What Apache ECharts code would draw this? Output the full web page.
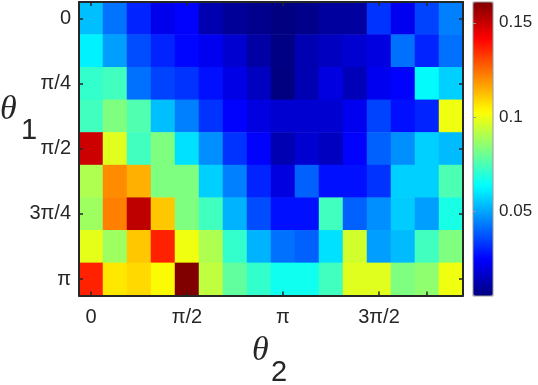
<!DOCTYPE html>
<html><head><meta charset="utf-8">
<script src="https://cdn.jsdelivr.net/npm/echarts@6/dist/echarts.min.js"></script>
<style>html,body{margin:0;padding:0;background:#fff}#c{width:538px;height:385px}</style>
</head><body><div id="c"></div>
<script>
// theta2 columns (16) and theta1 rows (9)
const xCategories = ['0','1','2','3','4','5','6','7','8','9','10','11','12','13','14','15'];
const yCategories = ['0','1','2','3','4','5','6','7','8'];
const xTickIdx = [0, 4, 8, 12, 14];
const xLabelIdx = [0, 4, 8, 12];
const xLabels = ['0', 'π/2', 'π', '3π/2'];
const yTickIdx = [0, 2, 4, 6, 8];
const yLabels = ['0', 'π/4', 'π/2', '3π/4', 'π'];
const cbTicks = [0.05, 0.1, 0.15];
const cbLabels = ['0.05', '0.1', '0.15'];
const colorMin = 0.0054;
const colorMax = 0.161;

const row0 = [0.0540,0.0424,0.0303,0.0221,0.0249,0.0128,0.0093,0.0073,0.0054,0.0070,0.0101,0.0101,0.0326,0.0225,0.0350,0.0443];
const row1 = [0.0618,0.0490,0.0365,0.0303,0.0256,0.0225,0.0178,0.0109,0.0060,0.0132,0.0155,0.0178,0.0202,0.0420,0.0303,0.0420];
const row2 = [0.0715,0.0735,0.0420,0.0350,0.0326,0.0272,0.0210,0.0155,0.0054,0.0132,0.0202,0.0140,0.0225,0.0249,0.0638,0.0567];
const row3 = [0.0735,0.0832,0.0759,0.0540,0.0443,0.0326,0.0249,0.0202,0.0178,0.0178,0.0178,0.0225,0.0350,0.0272,0.0303,0.1003];
const row4 = [0.1493,0.0980,0.0735,0.0832,0.0591,0.0466,0.0326,0.0249,0.0132,0.0178,0.0155,0.0249,0.0396,0.0466,0.0567,0.0536];
const row5 = [0.0905,0.1202,0.1147,0.0832,0.0832,0.0567,0.0443,0.0303,0.0202,0.0396,0.0272,0.0272,0.0326,0.0567,0.0567,0.0754];
const row6 = [0.0879,0.1221,0.1513,0.1112,0.0832,0.0735,0.0521,0.0365,0.0272,0.0272,0.0735,0.0396,0.0466,0.0560,0.0490,0.0676];
const row7 = [0.0988,0.0879,0.1112,0.1365,0.1003,0.0905,0.0715,0.0521,0.0420,0.0396,0.0591,0.0956,0.0490,0.0536,0.0735,0.0832];
const row8 = [0.1365,0.1062,0.1085,0.1027,0.1610,0.0929,0.0785,0.0715,0.0661,0.0661,0.0735,0.0980,0.0980,0.0832,0.0855,0.1003];
const rows = [row0,row1,row2,row3,row4,row5,row6,row7,row8];

// jet colormap (64 levels)
function jet(n){
  const out=[];
  const cl=v=>Math.max(0,Math.min(1,v));
  for(let i=0;i<n;i++){
    const x=i/(n-1);
    const r=cl(1.5-Math.abs(4*x-3)), g=cl(1.5-Math.abs(4*x-2)), b=cl(1.5-Math.abs(4*x-1));
    out.push('rgb('+Math.round(r*255)+','+Math.round(g*255)+','+Math.round(b*255)+')');
  }
  return out;
}

const data=[];
rows.forEach((r,yi)=>r.forEach((v,xi)=>data.push([xi,yi,v])));

const FONT='Liberation Sans';
const TXT='#262626';
const chart=echarts.init(document.getElementById('c'),null,{renderer:'canvas'});
const G={left:79,top:2,width:384,height:293.5};
const catX = (pos, show) => ({
  type:'category', gridIndex:0, data:xCategories, position:pos, boundaryGap:true,
  axisLine:{show:true,lineStyle:{color:TXT,width:2}},
  axisTick:{show:true,inside:true,length:4,alignWithLabel:true,lineStyle:{color:TXT,width:1.5},
    interval:(i)=>xTickIdx.indexOf(i)>=0},
  axisLabel:{show:show,margin:12,fontSize:20,fontFamily:FONT,color:TXT,
    interval:(i)=>xLabelIdx.indexOf(i)>=0,
    formatter:(v,i)=>{const k=xLabelIdx.indexOf(Number(v));return k>=0?xLabels[k]:'';}},
  splitLine:{show:false}, z:5
});
const catY = (pos, show) => ({
  type:'category', gridIndex:0, data:yCategories, position:pos, inverse:true, boundaryGap:true,
  axisLine:{show:true,lineStyle:{color:TXT,width:2}},
  axisTick:{show:true,inside:true,length:4,alignWithLabel:true,lineStyle:{color:TXT,width:1.5},
    interval:(i)=>yTickIdx.indexOf(i)>=0},
  axisLabel:{show:show,margin:8,fontSize:20,fontFamily:FONT,color:TXT,
    interval:(i)=>yTickIdx.indexOf(i)>=0,
    formatter:(v)=>{const k=yTickIdx.indexOf(Number(v));return k>=0?yLabels[k]:'';}},
  splitLine:{show:false}, z:5
});

chart.setOption({
  animation:false,
  backgroundColor:'#fff',
  grid:[
    Object.assign({containLabel:false},G),
    {left:473,top:2,width:20,height:294,show:true,borderColor:'#9a9a9a',borderWidth:1,backgroundColor:'transparent',z:10}
  ],
  xAxis:[catX('bottom',true),catX('top',false),
    {type:'value',gridIndex:1,show:false,min:0,max:1}],
  yAxis:[catY('left',true),catY('right',false),
    {type:'value',gridIndex:1,position:'right',min:colorMin,max:colorMax,
     axisLine:{show:false},splitLine:{show:false},
     axisTick:{show:true,inside:false,length:3,lineStyle:{color:'#9a9a9a'},customValues:cbTicks},
     axisLabel:{show:true,margin:6,fontSize:17,fontFamily:FONT,color:TXT,customValues:cbTicks,
       formatter:(v)=>{let k=-1;cbTicks.forEach((t,i)=>{if(Math.abs(t-v)<1e-9)k=i;});return k>=0?cbLabels[k]:'';}},
     z:11}],
  visualMap:{type:'continuous',min:colorMin,max:colorMax,seriesIndex:0,
    orient:'vertical',left:473,top:2,itemWidth:20,itemHeight:294,padding:0,
    calculable:false,hoverLink:false,text:null,showLabel:false,
    inRange:{color:jet(64)}},
  graphic:[
    {type:'text',left:0,top:93,style:{text:'θ',font:'italic 34px "Liberation Serif"',fill:TXT}},
    {type:'text',left:21,top:116,style:{text:'1',font:'29px "Liberation Sans"',fill:TXT}},
    {type:'text',left:252,top:334,style:{text:'θ',font:'italic 34px "Liberation Serif"',fill:TXT}},
    {type:'text',left:271,top:358,style:{text:'2',font:'29px "Liberation Sans"',fill:TXT}}
  ],
  series:[{type:'heatmap',xAxisIndex:0,yAxisIndex:0,data:data,itemStyle:{borderWidth:0},emphasis:{disabled:true}}]
});
</script></body></html>
